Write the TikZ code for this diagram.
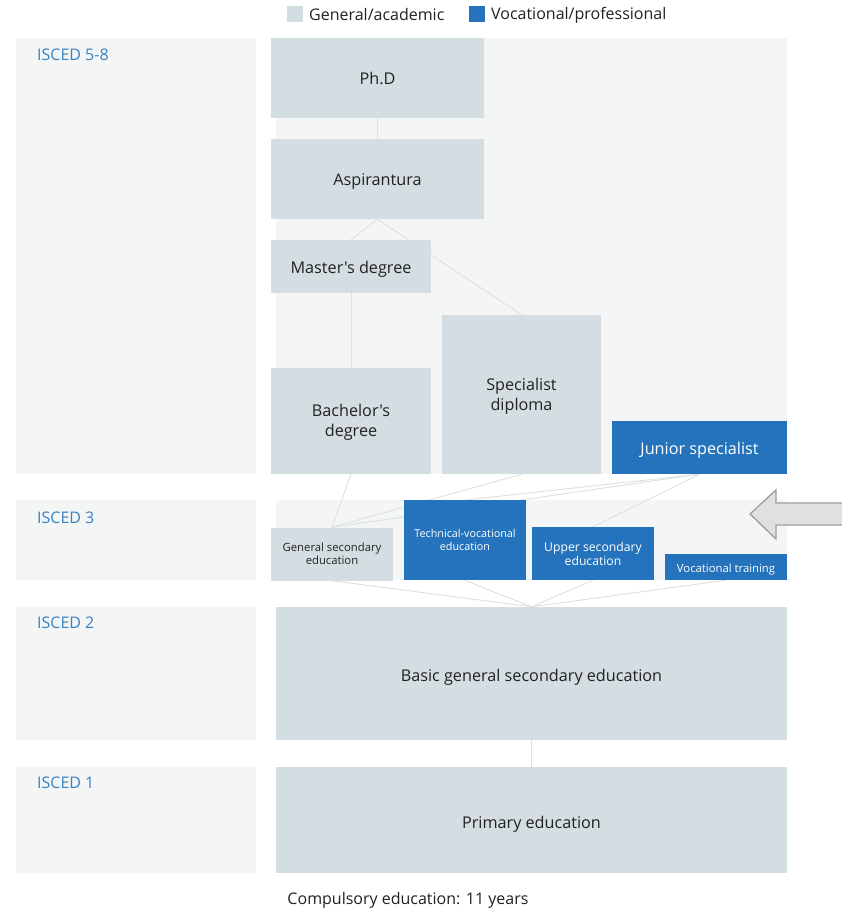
\documentclass[tikz,border=0pt]{standalone}
\usepackage{fontspec}
\setmainfont{Open Sans}[Ligatures=TeXOff]
\pgfdeclarelayer{bg}
\pgfdeclarelayer{lines}
\pgfsetlayers{bg,lines,main}
\definecolor{gnode}{HTML}{D3DDE2}
\definecolor{bnode}{HTML}{2473BC}
\definecolor{panel}{HTML}{F4F6F6}
\definecolor{conn}{HTML}{DCE0E2}
\definecolor{iscedc}{HTML}{3A80C2}
\definecolor{txt}{HTML}{222222}
\tikzset{
  gbox/.style={fill=gnode, draw=none, inner sep=0pt, align=center, text=txt},
  bbox/.style={fill=bnode, draw=none, inner sep=0pt, align=center, text=white},
  link/.style={draw=conn, line width=0.9pt},
  isced/.style={anchor=west, text=iscedc, inner sep=0pt, font=\fontsize{16}{19}\selectfont},
  big/.style={font=\fontsize{16.2}{20}\selectfont},
  oneline/.style={text height=14pt, text depth=0pt},
  small/.style={font=\fontsize{11.3}{13.5}\selectfont},
  legend/.style={anchor=west, inner sep=0pt, text=txt, font=\fontsize{16}{19}\selectfont},
}
\begin{document}
\begin{tikzpicture}[x=1pt,y=-1pt]
\useasboundingbox (0,0) rectangle (842,909);
% panels
\begin{pgfonlayer}{bg}
\fill[white] (0,0) rectangle (842,909);
\fill[panel] (16,38) rectangle (256,474);
\fill[panel] (276,38) rectangle (787,474);
\fill[panel] (16,500) rectangle (256,580);
\fill[panel] (276,500) rectangle (787,580);
\fill[panel] (16,607) rectangle (256,740);
\fill[panel] (16,767) rectangle (256,873);
\end{pgfonlayer}
% legend
\fill[gnode] (287,6) rectangle (303,22);
\node[legend] (lg1) at (309,15) {General/academic};
\fill[bnode] (469,6) rectangle (485,22);
\node[legend] (lg2) at (491,15) {Vocational/professional};
% ISCED labels
\node[isced] (l58) at (37,54.5) {ISCED 5-8};
\node[isced] (l3) at (37,517.5) {ISCED 3};
\node[isced] (l2) at (37,622.5) {ISCED 2};
\node[isced] (l1) at (37,782.5) {ISCED 1};
% nodes
\node[gbox, big, oneline, minimum width=213pt, minimum height=80pt] (phd) at (377.5,78) {Ph.D};
\node[gbox, big, oneline, minimum width=213pt, minimum height=80pt] (asp) at (377.5,179) {Aspirantura};
\node[gbox, big, oneline, minimum width=160pt, minimum height=53pt] (mas) at (351,266.5) {Master's degree};
\node[gbox, minimum width=159pt, minimum height=159pt] (spec) at (521.5,394.5) {};
\node[text=txt, align=center, inner sep=0pt, big] (spect) at (521.5,396) {Specialist\\diploma};
\node[gbox, minimum width=160pt, minimum height=106pt] (bach) at (351,421) {};
\node[text=txt, align=center, inner sep=0pt, big] (bacht) at (351,422) {Bachelor's\\degree};
\node[bbox, big, oneline, minimum width=175pt, minimum height=53pt] (jun) at (699.5,447.5) {Junior specialist};
\node[gbox, small, minimum width=122pt, minimum height=53pt] (gen) at (332,554) {General secondary\\education};
\node[bbox, minimum width=122pt, minimum height=80pt, anchor=north] (tech) at (465,500) {};
\node[text=white, align=center, inner sep=0pt, font=\fontsize{10.8}{13}\selectfont] (techt) at (465,540) {Technical-vocational\\education};
\node[bbox, font=\fontsize{12.2}{14}\selectfont, minimum width=122pt, minimum height=53pt] (upp) at (593,553.5) {Upper secondary\\education};
\node[bbox, small, minimum width=122pt, minimum height=26pt, text height=10pt, text depth=0pt] (voc) at (726,567) {Vocational training};
\node[gbox, font=\fontsize{16.2}{20}\selectfont, text height=16pt, text depth=0pt, minimum width=511pt, minimum height=133pt] (basic) at (531.5,673.5) {Basic general secondary education};
\node[gbox, font=\fontsize{16.2}{20}\selectfont, text height=16pt, text depth=0pt, minimum width=511pt, minimum height=106pt] (prim) at (531.5,820) {Primary education};
% footer
\node[inner sep=0pt, text=txt, font=\fontsize{16}{19}\selectfont] (foot) at (408,900.5) {Compulsory education: 11 years};
% connectors
\begin{pgfonlayer}{lines}
\draw[link] (phd.south) -- (asp.north);
\draw[link] (asp.south) -- (mas.north);
\draw[link] (asp.south) -- (spec.north);
\draw[link] (mas.south) -- (bach.north);
\draw[link] (bach.south) -- (gen.north);
\draw[link] (spec.south) -- (gen.north);
\draw[link] (jun.south) -- (gen.north);
\draw[link] (jun.south) -- (tech.north);
\draw[link] (jun.south) -- (upp.north);
\draw[link] (gen.south) -- (basic.north);
\draw[link] (tech.south) -- (basic.north);
\draw[link] (upp.south) -- (basic.north);
\draw[link] (voc.south) -- (basic.north);
\draw[link] (basic.south) -- (prim.north);
\end{pgfonlayer}
% big arrow
\draw[fill=black!12, draw=black!38, line width=1.3pt, line join=miter]
  (750,514) -- (776,490) -- (776,503) -- (845,503) -- (845,525) -- (776,525) -- (776,539) -- cycle;
\end{tikzpicture}
\end{document}
